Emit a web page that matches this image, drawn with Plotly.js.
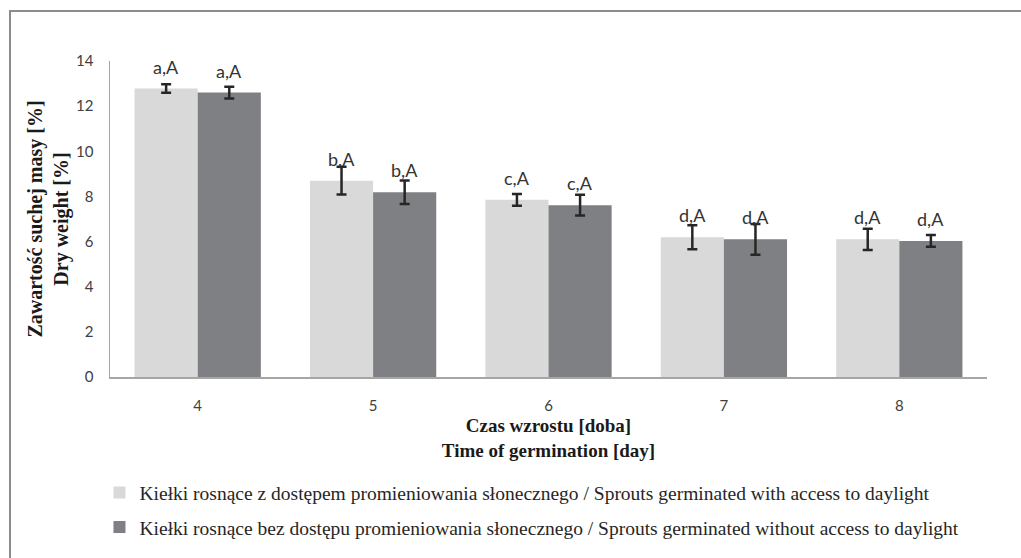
<!DOCTYPE html>
<html>
<head>
<meta charset="utf-8">
<script src="https://cdn.plot.ly/plotly-3.0.1.min.js"></script>
<style>
  html, body { margin: 0; padding: 0; background: #fff; }
  #wrap { position: relative; width: 1021px; height: 558px; overflow: hidden; }
  #frame { position: absolute; left: 9px; top: 10px; width: 1030px; height: 570px;
           border-left: 2px solid #8c8c8c; border-top: 2px solid #8c8c8c; }
  #chart { position: absolute; left: 0; top: 0; width: 1021px; height: 558px; }
</style>
</head>
<body>
<div id="wrap">
  <div id="frame"></div>
  <div id="chart"></div>
</div>
<script>
const days = ['4', '5', '6', '7', '8'];
const withLight = [12.78, 8.70, 7.85, 6.19, 6.10];
const withLightErr = [0.19, 0.62, 0.26, 0.53, 0.47];
const withoutLight = [12.60, 8.19, 7.61, 6.10, 6.03];
const withoutLightErr = [0.26, 0.52, 0.46, 0.68, 0.26];
const labelsLight = ['a,A', 'b,A', 'c,A', 'd,A', 'd,A'];
const labelsDark = ['a,A', 'b,A', 'c,A', 'd,A', 'd,A'];
const nameLight = 'Kiełki rosnące z dostępem promieniowania słonecznego / Sprouts germinated with access to daylight';
const nameDark = 'Kiełki rosnące bez dostępu promieniowania słonecznego / Sprouts germinated without access to daylight';

const errStyle = { color: '#262626', thickness: 2.5, width: 5 };

const traces = [
  {
    type: 'bar', x: days, y: withLight, name: nameLight, legendgroup: 'g1',
    marker: { color: '#d9d9da' },
    error_y: Object.assign({ type: 'data', array: withLightErr, visible: true }, errStyle)
  },
  {
    type: 'bar', x: days, y: withoutLight, name: nameDark, legendgroup: 'g2',
    marker: { color: '#7f8083' },
    error_y: Object.assign({ type: 'data', array: withoutLightErr, visible: true }, errStyle)
  }
];

const annFont = { family: 'Lato, "Open Sans", sans-serif', size: 18, color: '#333333' };
const annotations = [];
days.forEach((d, i) => {
  annotations.push({ x: i, y: withLight[i], text: labelsLight[i], xref: 'x', yref: 'y',
    xshift: -31.5, yshift: 9, yanchor: 'bottom', showarrow: false, font: annFont });
  annotations.push({ x: i, y: withoutLight[i], text: labelsDark[i], xref: 'x', yref: 'y',
    xshift: 31.5, yshift: 9, yanchor: 'bottom', showarrow: false, font: annFont });
});

const serif = '"Liberation Serif", "Times New Roman", serif';
const layout = {
  width: 1021, height: 558,
  paper_bgcolor: 'rgba(0,0,0,0)', plot_bgcolor: 'rgba(0,0,0,0)',
  margin: { l: 110, r: 34, t: 61, b: 178 },
  barmode: 'group', bargap: 0.28, bargroupgap: 0,
  showlegend: true,
  legend: {
    orientation: 'v', x: -0.012, xanchor: 'left', y: -0.305, yanchor: 'top',
    font: { family: serif, size: 19.5, color: '#262626' },
    tracegroupgap: 6, itemwidth: 30, bgcolor: 'rgba(0,0,0,0)'
  },
  xaxis: {
    type: 'category', range: [-0.5, 4.5], autorange: false,
    showline: true, linecolor: '#a6a6a6', linewidth: 1.5,
    ticks: '', showgrid: false, zeroline: false,
    tickfont: { family: 'Lato, "Open Sans", sans-serif', size: 15, color: '#404040' },
    ticklabelstandoff: 14,
    title: { text: '<b>Czas wzrostu [doba]<br>Time of germination [day]</b>',
      font: { family: serif, size: 19, color: '#1a1a1a' }, standoff: 6 }
  },
  yaxis: {
    range: [0, 14], autorange: false, dtick: 2, showline: true, linecolor: '#a6a6a6', linewidth: 1.5,
    ticks: '', showgrid: false, zeroline: false,
    tickfont: { family: 'Lato, "Open Sans", sans-serif', size: 15, color: '#404040' },
    ticklabelstandoff: 12,
    title: { text: '<b>Zawartość suchej masy [%]<br>Dry weight [%]</b>',
      font: { family: serif, size: 20, color: '#1a1a1a' }, standoff: 2 }
  },
  annotations: annotations
};

Plotly.newPlot('chart', traces, layout, { displayModeBar: false, staticPlot: true });
</script>
</body>
</html>
